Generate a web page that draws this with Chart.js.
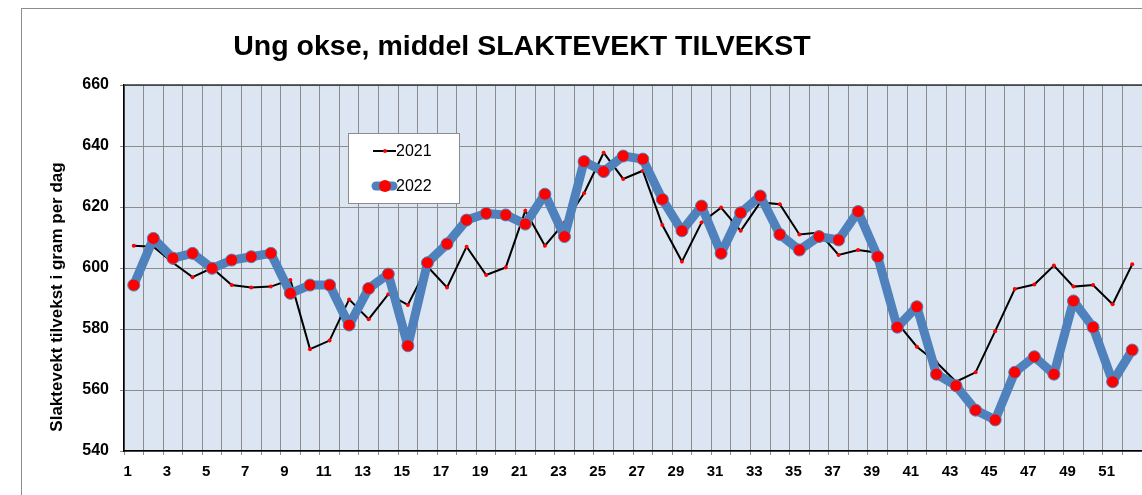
<!DOCTYPE html>
<html>
<head>
<meta charset="utf-8">
<script src="https://cdn.jsdelivr.net/npm/chart.js@4"></script>
<style>
  html, body { margin: 0; padding: 0; background: #fff; }
  #wrap { width: 1142px; height: 495px; }
</style>
</head>
<body>
<div id="wrap"><canvas id="myChart" width="1142" height="495"></canvas></div>
<script>
// Uker 1..52
const uker = Array.from({ length: 52 }, (_, i) => String(i + 1));

// 2021 - middel slaktevekt tilvekst (g/dag)
const verdier2021 = [
  607.3, 607.0, 601.7, 597.0, 600.0, 594.4, 593.6, 593.9, 596.1, 573.4,
  576.2, 589.7, 583.2, 591.4, 587.9, 600.5, 593.6, 607.0, 597.7, 600.2,
  618.8, 607.3, 614.9, 624.5, 637.8, 629.2, 631.9, 614.1, 602.1, 614.9,
  619.8, 612.2, 621.5, 620.9, 611.0, 611.6, 604.3, 605.9, 605.0, 582.0,
  574.2, 569.1, 562.7, 565.8, 579.3, 593.1, 594.6, 600.8, 593.9, 594.4,
  588.1, 601.2
];

// 2022
const verdier2022 = [
  594.4, 609.7, 603.2, 604.8, 599.9, 602.6, 603.7, 604.8, 591.7, 594.4,
  594.4, 581.3, 593.3, 598.0, 574.5, 601.7, 607.9, 615.7, 617.9, 617.4,
  614.4, 624.2, 610.3, 634.9, 631.6, 636.7, 635.7, 622.5, 612.2, 620.3,
  604.8, 618.1, 623.6, 611.0, 605.9, 610.3, 609.2, 618.5, 603.7, 580.6,
  587.3, 565.2, 561.4, 553.4, 550.2, 565.8, 570.9, 565.2, 589.2, 580.6,
  562.7, 573.1
];

const yMin = 540;
const yMax = 660;
const yStep = 20;

const tittel = "Ung okse, middel SLAKTEVEKT TILVEKST";
const yTittel = "Slaktevekt tilvekst i gram per dag";

const font = "'Liberation Sans', Arial, sans-serif";

// Bakgrunn, ramme, titler og forklaring tegnes med en liten plugin
const pynt = {
  id: 'pynt',
  beforeDraw(chart) {
    const { ctx, chartArea: a } = chart;
    ctx.save();
    // ytre ramme
    ctx.strokeStyle = '#8c8c8c';
    ctx.lineWidth = 1;
    ctx.strokeRect(21.5, 8.5, 1400, 600);
    // plotområde
    ctx.fillStyle = '#dce6f2';
    ctx.fillRect(a.left, a.top, a.right - a.left, a.bottom - a.top);
    ctx.restore();
  },
  afterDraw(chart) {
    const { ctx, chartArea: a } = chart;
    ctx.save();
    // topplinje på plotområdet
    ctx.strokeStyle = '#333';
    ctx.lineWidth = 1.5;
    ctx.beginPath();
    ctx.moveTo(a.left, a.top);
    ctx.lineTo(a.right, a.top);
    ctx.stroke();

    // tittel
    ctx.fillStyle = '#000';
    ctx.font = 'bold 28.5px ' + font;
    ctx.textAlign = 'center';
    ctx.textBaseline = 'middle';
    ctx.fillText(tittel, 522, 47);

    // y-akse tittel
    ctx.font = 'bold 17px ' + font;
    ctx.translate(57, 297);
    ctx.rotate(-Math.PI / 2);
    ctx.fillText(yTittel, 0, 0);
    ctx.setTransform(1, 0, 0, 1, 0, 0);

    // forklaring
    ctx.fillStyle = '#fff';
    ctx.fillRect(348, 133, 111, 70);
    ctx.strokeStyle = '#8c8c8c';
    ctx.lineWidth = 1;
    ctx.strokeRect(348.5, 133.5, 111, 70);

    const rader = [
      { ds: chart.data.datasets[0], y: 151 },
      { ds: chart.data.datasets[1], y: 186 }
    ];
    for (const r of rader) {
      const tykk = r.ds.borderWidth > 3;
      ctx.strokeStyle = r.ds.borderColor;
      ctx.lineWidth = r.ds.borderWidth;
      ctx.lineCap = tykk ? 'round' : 'butt';
      ctx.beginPath();
      ctx.moveTo(tykk ? 376 : 373, r.y);
      ctx.lineTo(tykk ? 393 : 396, r.y);
      ctx.stroke();
      ctx.fillStyle = r.ds.pointBackgroundColor;
      ctx.beginPath();
      ctx.arc(385, r.y, r.ds.pointRadius, 0, Math.PI * 2);
      ctx.fill();
      ctx.fillStyle = '#000';
      ctx.font = '16px ' + font;
      ctx.textAlign = 'left';
      ctx.fillText(r.ds.label, 396, r.y + 1);
    }
    ctx.restore();
  }
};

const ctx = document.getElementById('myChart');
new Chart(ctx, {
  type: 'line',
  data: {
    labels: uker,
    datasets: [
      {
        label: '2021',
        data: verdier2021,
        borderColor: '#000000',
        borderWidth: 2,
        pointRadius: 2,
        pointBackgroundColor: '#ff0000',
        pointBorderWidth: 0,
        tension: 0,
        order: 2
      },
      {
        label: '2022',
        data: verdier2022,
        borderColor: '#4f81bd',
        borderWidth: 9,
        pointRadius: 6,
        pointBackgroundColor: '#ff0000',
        pointBorderColor: '#4f81bd',
        pointBorderWidth: 1,
        borderJoinStyle: 'round',
        tension: 0,
        order: 1
      }
    ]
  },
  options: {
    responsive: false,
    animation: false,
    layout: { autoPadding: false, padding: { top: 85, left: 0, right: 0, bottom: 0 } },
    plugins: {
      legend: { display: false },
      title: { display: false },
      tooltip: { enabled: false }
    },
    scales: {
      x: {
        offset: true,
        grid: {
          offset: true,
          color: '#8c8c8c',
          tickLength: 4,
          drawTicks: true
        },
        border: { color: '#000', width: 1.5 },
        ticks: {
          autoSkip: false,
          maxRotation: 0,
          padding: 8,
          labelOffset: -6,
          color: '#000',
          font: { family: font, size: 15, weight: 'bold' },
          callback: (v, i) => (i % 2 === 0 ? uker[i] : '')
        },
        afterFit: (s) => {
          s.height = 44;
          s.paddingLeft = 0;
          s.paddingRight = 0;
        }
      },
      y: {
        min: yMin,
        max: yMax,
        grid: { color: '#8c8c8c', tickLength: 4 },
        border: { color: '#000', width: 1.5 },
        ticks: {
          stepSize: yStep,
          padding: 11,
          color: '#000',
          font: { family: font, size: 16, weight: 'bold' }
        },
        afterFit: (s) => { s.width = 124; }
      }
    }
  },
  plugins: [pynt]
});
</script>
</body>
</html>
